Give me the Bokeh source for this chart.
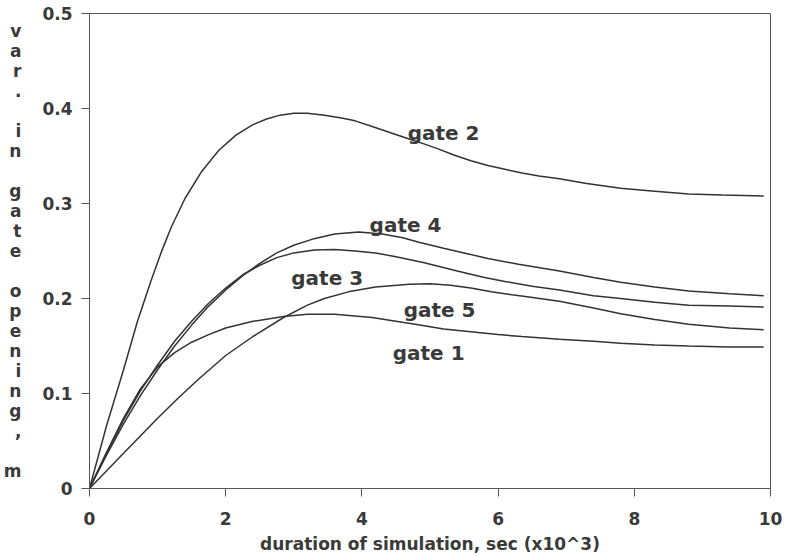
from bokeh.plotting import figure
from bokeh.models import Range1d, FixedTicker, Label
from bokeh.embed import file_html
from bokeh.resources import INLINE

# ---- data ----
gate1_x = [0, 0.25, 0.5, 0.75, 1.0, 1.25, 1.5, 1.75, 2.0, 2.4, 2.85, 3.2, 3.6, 4.15, 4.5, 4.85, 5.2, 5.6, 6.0, 6.35, 6.9, 7.4, 7.8, 8.3, 8.8, 9.4, 9.9]
gate1_y = [0, 0.038, 0.074, 0.105, 0.128, 0.143, 0.154, 0.162, 0.169, 0.176, 0.181, 0.1835, 0.1835, 0.180, 0.176, 0.172, 0.168, 0.165, 0.162, 0.160, 0.157, 0.155, 0.153, 0.151, 0.150, 0.149, 0.149]

gate2_x = [0, 0.25, 0.5, 0.7, 0.9, 1.05, 1.2, 1.4, 1.65, 1.9, 2.15, 2.4, 2.6, 2.8, 3.0, 3.2, 3.45, 3.7, 3.9, 4.15, 4.4, 4.65, 4.9, 5.1, 5.35, 5.6, 5.85, 6.1, 6.35, 6.6, 6.9, 7.3, 7.8, 8.3, 8.8, 9.3, 9.9]
gate2_y = [0, 0.066, 0.125, 0.175, 0.218, 0.248, 0.275, 0.305, 0.334, 0.356, 0.372, 0.383, 0.389, 0.393, 0.395, 0.395, 0.393, 0.390, 0.387, 0.381, 0.375, 0.369, 0.363, 0.358, 0.351, 0.345, 0.340, 0.336, 0.332, 0.329, 0.326, 0.321, 0.316, 0.313, 0.310, 0.309, 0.308]

gate3_x = [0, 0.25, 0.5, 0.75, 1.0, 1.25, 1.5, 1.75, 2.0, 2.25, 2.5, 2.75, 3.0, 3.3, 3.6, 3.9, 4.2, 4.5, 4.9, 5.4, 5.8, 6.1, 6.5, 6.9, 7.4, 7.8, 8.3, 8.8, 9.4, 9.9]
gate3_y = [0, 0.037, 0.072, 0.103, 0.130, 0.155, 0.176, 0.195, 0.211, 0.225, 0.235, 0.243, 0.248, 0.251, 0.2515, 0.250, 0.248, 0.244, 0.238, 0.229, 0.222, 0.218, 0.213, 0.209, 0.203, 0.200, 0.196, 0.193, 0.192, 0.191]

gate4_x = [0, 0.25, 0.5, 0.75, 1.0, 1.25, 1.5, 1.75, 2.0, 2.25, 2.5, 2.75, 3.0, 3.3, 3.6, 3.95, 4.3, 4.6, 4.85, 5.2, 5.5, 5.85, 6.3, 6.9, 7.4, 7.8, 8.3, 8.8, 9.4, 9.9]
gate4_y = [0, 0.035, 0.068, 0.098, 0.125, 0.150, 0.172, 0.192, 0.209, 0.224, 0.237, 0.248, 0.256, 0.263, 0.268, 0.270, 0.268, 0.264, 0.259, 0.253, 0.248, 0.242, 0.236, 0.229, 0.222, 0.217, 0.212, 0.208, 0.205, 0.203]

gate5_x = [0, 0.5, 1.0, 1.3, 1.6, 2.0, 2.4, 2.85, 3.2, 3.45, 3.8, 4.2, 4.7, 5.0, 5.3, 5.6, 5.9, 6.4, 6.9, 7.4, 7.8, 8.3, 8.8, 9.4, 9.9]
gate5_y = [0, 0.037, 0.074, 0.095, 0.115, 0.140, 0.160, 0.180, 0.193, 0.200, 0.207, 0.212, 0.215, 0.2155, 0.214, 0.211, 0.207, 0.202, 0.197, 0.190, 0.184, 0.178, 0.173, 0.169, 0.167]

series = [
    ("gate 1", gate1_x, gate1_y),
    ("gate 2", gate2_x, gate2_y),
    ("gate 3", gate3_x, gate3_y),
    ("gate 4", gate4_x, gate4_y),
    ("gate 5", gate5_x, gate5_y),
]

x_ticks = [0, 2, 4, 6, 8, 10]
x_tick_labels = ["0", "2", "4", "6", "8", "10"]
y_ticks = [0, 0.1, 0.2, 0.3, 0.4, 0.5]
y_tick_labels = ["0", "0.1", "0.2", "0.3", "0.4", "0.5"]

x_title = "duration of simulation, sec (x10^3)"
y_title = "var. in gate opening, m"

# anchor points for the curve names (annotation positions)
label_pos = {
    "gate 2": (5.20, 0.374),
    "gate 4": (4.64, 0.277),
    "gate 3": (3.49, 0.222),
    "gate 5": (5.14, 0.188),
    "gate 1": (4.98, 0.143),
}

FONT = "DejaVu Sans"
TXT = "#3a3a3a"
LINE = "#333333"

p = figure(width=789, height=558, output_backend="svg", toolbar_location=None,
           x_range=Range1d(0, 10), y_range=Range1d(0, 0.5),
           min_border_left=89, min_border_right=19, min_border_top=13, min_border_bottom=70)

p.background_fill_color = "white"
p.border_fill_color = "white"
p.outline_line_color = "#555555"
p.outline_line_width = 1
p.grid.visible = False

for name, xs, ys in series:
    p.line(xs, ys, line_color=LINE, line_width=1.5)

for ax in (p.xaxis[0], p.yaxis[0]):
    ax.axis_line_color = "#555555"
    ax.major_tick_line_color = "#555555"
    ax.major_tick_out = 8
    ax.major_tick_in = 0
    ax.minor_tick_line_color = None
    ax.major_label_text_font = FONT
    ax.major_label_text_font_style = "bold"
    ax.major_label_text_font_size = "17px"
    ax.major_label_text_color = TXT
    ax.axis_label_text_font = FONT
    ax.axis_label_text_font_style = "bold"
    ax.axis_label_text_font_size = "17px"
    ax.axis_label_text_color = TXT

p.xaxis.ticker = FixedTicker(ticks=x_ticks)
p.xaxis.major_label_overrides = {t: l for t, l in zip(x_ticks, x_tick_labels)}
p.xaxis.major_label_standoff = 15
p.xaxis.axis_label = x_title
p.xaxis.axis_label_standoff = 6

p.yaxis.ticker = FixedTicker(ticks=y_ticks)
p.yaxis.major_label_overrides = {t: l for t, l in zip(y_ticks, y_tick_labels)}
p.yaxis.major_label_standoff = 9
# stacked vertical title: one character per row
p.yaxis.axis_label = "\n".join(y_title)
p.yaxis.axis_label_orientation = "horizontal"
p.yaxis.axis_label_text_line_height = 1.0
p.yaxis.axis_label_standoff = 18

for name, (lx, ly) in label_pos.items():
    p.add_layout(Label(x=lx, y=ly, text=name, text_font=FONT, text_font_style="bold",
                       text_font_size="20px", text_color=TXT,
                       text_align="center", text_baseline="middle"))

open("out.html", "w").write(file_html(p, INLINE))
